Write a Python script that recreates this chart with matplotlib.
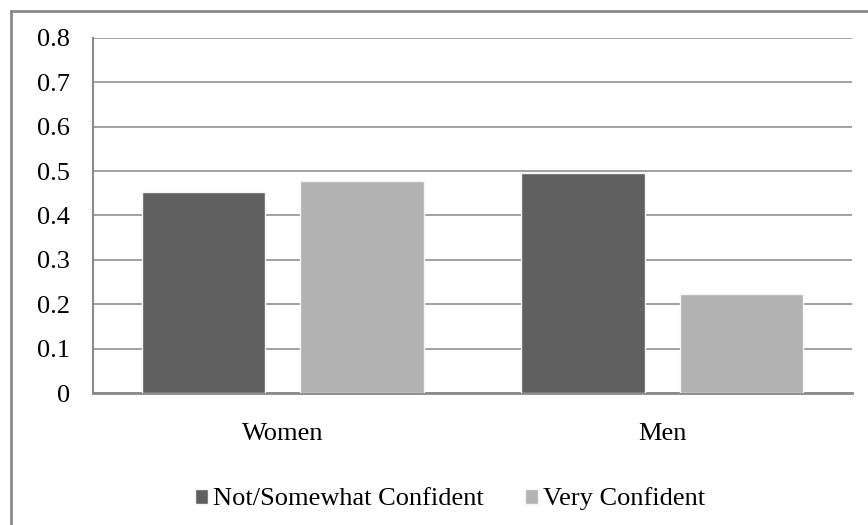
import matplotlib
matplotlib.use("Agg")
import matplotlib.pyplot as plt
import numpy as np
from matplotlib.patches import Rectangle

# ── data ─────────────────────────────────────────────────────────────────────
groups = ["Women", "Men"]
not_somewhat = [0.453, 0.496]
very_conf = [0.478, 0.222]
series_names = ["Not/Somewhat Confident", "Very Confident"]
y_ticks = [0, 0.1, 0.2, 0.3, 0.4, 0.5, 0.6, 0.7, 0.8]
y_labels = ["0", "0.1", "0.2", "0.3", "0.4", "0.5", "0.6", "0.7", "0.8"]

DARK = "#606060"
LIGHT = "#b2b2b2"
GRID = "#9a9a9a"
FS = 19

plt.rcParams["font.family"] = ["Liberation Serif", "DejaVu Serif"]

fig = plt.figure(figsize=(8.68, 5.25), dpi=100)
ax = fig.add_axes([93 / 868, 1 - 393 / 525, (852 - 93) / 868, (393 - 38) / 525])

x = np.arange(len(groups))
w = 0.326
off = 0.209
b1 = ax.bar(x - off, not_somewhat, w, color=DARK, edgecolor="#f4f4f4",
            linewidth=1, label=series_names[0], zorder=3)
b2 = ax.bar(x + off, very_conf, w, color=LIGHT, edgecolor="#f4f4f4",
            linewidth=1, label=series_names[1], zorder=3)

ax.set_xlim(-0.5, len(groups) - 0.5)
ax.set_ylim(0, 0.8)
ax.set_yticks(y_ticks)
ax.set_yticklabels(y_labels, fontsize=FS)
ax.set_xticks(x)
ax.set_xticklabels(groups, fontsize=FS)
ax.tick_params(axis="y", length=0, pad=16.5)
ax.tick_params(axis="x", length=0, pad=21.5)

ax.yaxis.grid(True, color=GRID, linewidth=1.3, zorder=0)
ax.set_axisbelow(True)
for side in ("top", "right"):
    ax.spines[side].set_visible(False)
ax.spines["left"].set_color("#8a8a8a")
ax.spines["left"].set_linewidth(1.5)
ax.spines["bottom"].set_color("#8a8a8a")
ax.spines["bottom"].set_linewidth(2)

# legend along the bottom
fig.legend(handles=[b1, b2], labels=series_names, loc="center",
           bbox_to_anchor=(450 / 868, 1 - 499 / 525), ncol=2, frameon=False,
           fontsize=FS, handlelength=0.5, handleheight=0.5,
           handletextpad=0.2, columnspacing=1.55,
           borderpad=0, borderaxespad=0)

# chart-area border (runs off the right and bottom edges)
fig.patches.append(Rectangle((10.5 / 868, -0.05), 1.0, 1 - 11 / 525 + 0.05,
                             transform=fig.transFigure, fill=False,
                             edgecolor="#8a8a8a", linewidth=2))

fig.savefig("out.png", dpi=100)
